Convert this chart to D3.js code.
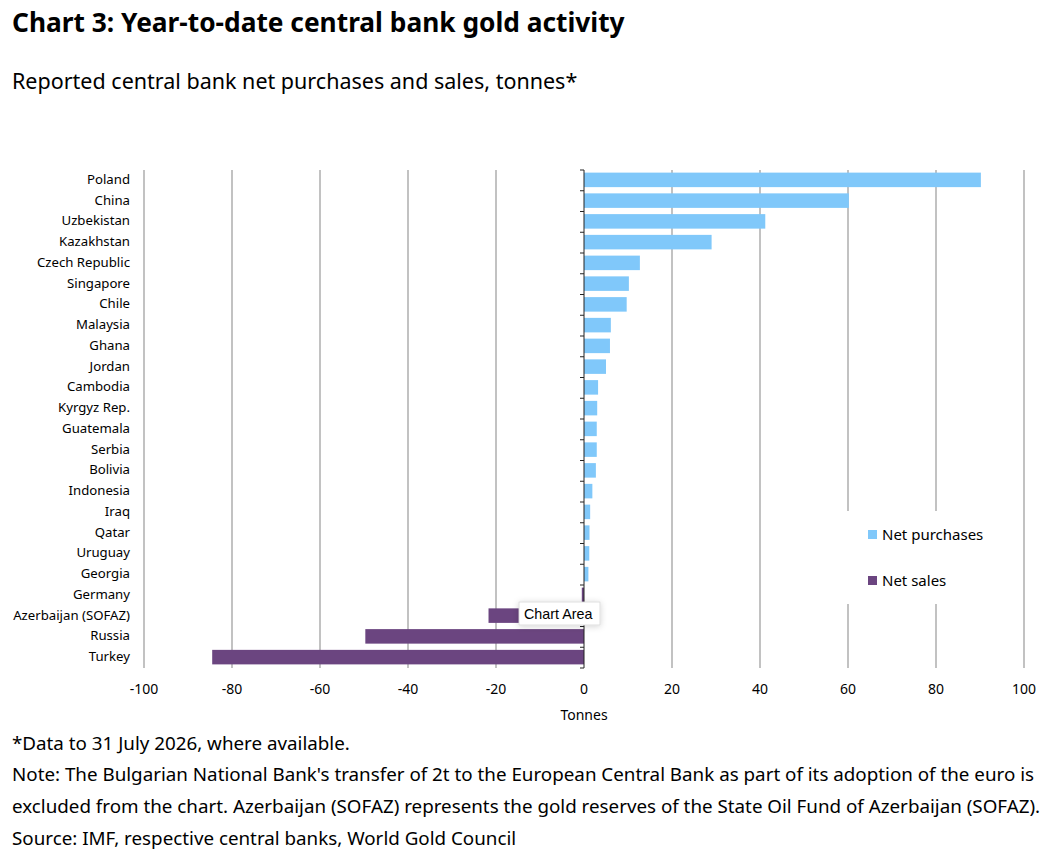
<!DOCTYPE html>
<html>
<head>
<meta charset="utf-8">
<script src="https://cdn.jsdelivr.net/npm/d3@7"></script>
<style>
  body { margin: 0; background: #fff; }
  text { font-family: "Noto Sans", sans-serif; fill: #000; }
</style>
</head>
<body>
<div id="chart"></div>
<script>
// data (tonnes)
const countries = ['Poland', 'China', 'Uzbekistan', 'Kazakhstan', 'Czech Republic', 'Singapore', 'Chile',
  'Malaysia', 'Ghana', 'Jordan', 'Cambodia', 'Kyrgyz Rep.', 'Guatemala', 'Serbia', 'Bolivia', 'Indonesia',
  'Iraq', 'Qatar', 'Uruguay', 'Georgia', 'Germany', 'Azerbaijan (SOFAZ)', 'Russia', 'Turkey']
const tonnes = [90.2, 60.2, 41.2, 29.0, 12.7, 10.2, 9.7, 6.1, 5.9, 5.0, 3.2, 3.0, 2.9, 2.9, 2.7, 1.9,
  1.4, 1.25, 1.2, 1.0, -0.5, -21.7, -49.7, -84.5]
const xTicks = [-100, -80, -60, -40, -20, 0, 20, 40, 60, 80, 100]
const seriesNames = ['Net purchases', 'Net sales']
const seriesColors = ['#80c8fa', '#6b4580']

const notes = [
  '*Data to 31 July 2026, where available.',
  "Note: The Bulgarian National Bank's transfer of 2t to the European Central Bank as part of its adoption of the euro is",
  'excluded from the chart. Azerbaijan (SOFAZ) represents the gold reserves of the State Oil Fund of Azerbaijan (SOFAZ).',
  'Source: IMF, respective central banks, World Gold Council'
]

const W = 1055, H = 860
const m = { left: 144, right: 1024, top: 170, bottom: 668 }

const svg = d3.select('#chart').append('svg').attr('width', W).attr('height', H)

/*  titles  */
svg.append('text').attr('x', 12).attr('y', 32)
  .style('font-size', '26.3px').style('font-weight', 'bold')
  .text('Chart 3: Year-to-date central bank gold activity')
svg.append('text').attr('x', 12).attr('y', 89)
  .style('font-size', '21.5px')
  .text('Reported central bank net purchases and sales, tonnes*')

const x = d3.scaleLinear().domain([-100, 100]).range([m.left, m.right])
const y = d3.scaleBand().domain(countries).range([m.top, m.bottom]).paddingInner(0.3).paddingOuter(0.15)
const yOuter = d3.scaleBand().domain(countries).range([m.top, m.bottom])

const rows = countries.map((c, i) => ({ name: c, v: tonnes[i] }))

/* grid */
svg.append('g').selectAll('line')
  .data(xTicks.filter(t => t !== 0))
  .enter().append('line')
  .attr('x1', d => x(d)).attr('x2', d => x(d))
  .attr('y1', m.top).attr('y2', m.bottom)
  .attr('stroke', '#b3b3b3').attr('stroke-width', 1.6)

/* bars */
svg.append('g').selectAll('rect')
  .data(rows)
  .enter().append('rect')
  .attr('x', d => x(Math.min(0, d.v)))
  .attr('width', d => Math.abs(x(d.v) - x(0)))
  .attr('y', d => y(d.name) - 0.5)
  .attr('height', y.bandwidth())
  .attr('fill', d => d.v >= 0 ? seriesColors[0] : seriesColors[1])

/* zero axis with ticks at category boundaries */
const axisG = svg.append('g')
axisG.append('line')
  .attr('x1', x(0)).attr('x2', x(0)).attr('y1', m.top).attr('y2', m.bottom)
  .attr('stroke', '#222').attr('stroke-width', 1)
axisG.selectAll('.tk')
  .data(countries.map(c => yOuter(c)).concat([m.bottom]))
  .enter().append('line')
  .attr('x1', x(0) - 4).attr('x2', x(0))
  .attr('y1', d => d).attr('y2', d => d)
  .attr('stroke', '#222').attr('stroke-width', 1)

/* category labels */
svg.append('g').selectAll('text')
  .data(countries)
  .enter().append('text')
  .attr('x', 130)
  .attr('y', d => yOuter(d) + yOuter.bandwidth() / 2 - 1)
  .attr('dy', '0.35em')
  .attr('text-anchor', 'end')
  .style('font-size', '13.2px')
  .text(d => d)

/* x labels */
svg.append('g').selectAll('text')
  .data(xTicks)
  .enter().append('text')
  .attr('x', d => x(d))
  .attr('y', 694)
  .attr('text-anchor', 'middle')
  .style('font-size', '14px')
  .text(d => d)
svg.append('text').attr('x', x(0)).attr('y', 720)
  .attr('text-anchor', 'middle').style('font-size', '14px').text('Tonnes')

/* legend */
const lg = svg.append('g')
lg.append('rect').attr('x', 842).attr('y', 511).attr('width', 160).attr('height', 93).attr('fill', '#fff')
seriesNames.forEach((s, i) => {
  let yy = 535 + i * 46
  lg.append('rect').attr('x', 868).attr('y', yy - 5).attr('width', 9).attr('height', 9).attr('fill', seriesColors[i])
  lg.append('text').attr('x', 882).attr('y', yy).attr('dy', '0.35em').style('font-size', '15px').text(s)
})

/* tooltip left over in the screenshot */
const defs = svg.append('defs')
const f = defs.append('filter').attr('id', 'sh').attr('x', '-30%').attr('y', '-50%').attr('width', '160%').attr('height', '200%')
f.append('feDropShadow').attr('dx', 0).attr('dy', 1).attr('stdDeviation', 3).attr('flood-opacity', 0.18)
const tip = svg.append('g')
tip.append('rect').attr('x', 519).attr('y', 602).attr('width', 81).attr('height', 23)
  .attr('fill', '#fff').attr('stroke', '#d8d8d8').attr('stroke-width', 0.8).attr('filter', 'url(#sh)')
tip.append('text').attr('x', 524).attr('y', 614).attr('dy', '0.35em')
  .style('font-family', '"Liberation Sans", Arial, sans-serif').style('font-size', '14.3px')
  .text('Chart Area')

/* notes */
svg.append('g').selectAll('text')
  .data(notes)
  .enter().append('text')
  .attr('x', 12)
  .attr('y', (d, i) => 749.5 + i * 31.7)
  .style('font-size', '18.8px')
  .text(d => d)
</script>
</body>
</html>
